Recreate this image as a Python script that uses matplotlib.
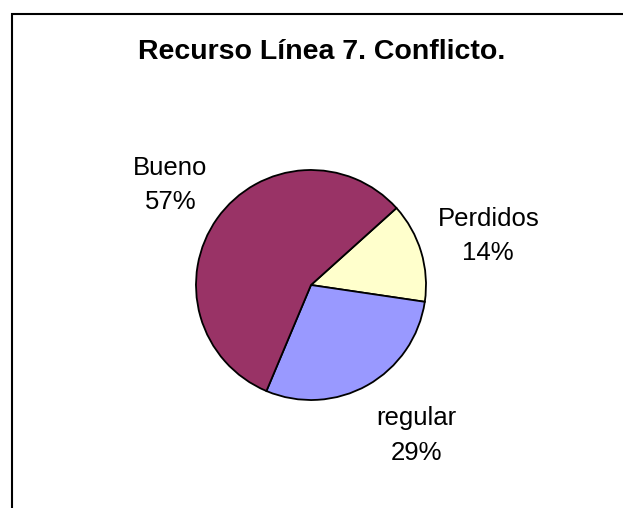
import numpy as np
import matplotlib
matplotlib.use("Agg")
import matplotlib.pyplot as plt
from matplotlib.patches import Rectangle

plt.rcParams['font.family'] = ['Liberation Sans', 'DejaVu Sans']

# slices in clockwise order starting from the upper right
categories = ['Perdidos', 'regular', 'Bueno']
percentages = [14, 29, 57]
colors = ['#FFFFCC', '#9999FF', '#993366']

# label placement: (angle in degrees, distance in pie radii)
label_spots = [(15.5, 1.60), (-54.9, 1.60), (144.6, 1.50)]

W, H, DPI = 623, 508, 100
fig = plt.figure(figsize=(W / DPI, H / DPI), dpi=DPI)
fig.patch.set_facecolor('white')

# chart area border (runs off the right and bottom edges)
left_px, top_px = 11.7, 14.2
fig.patches.append(Rectangle((left_px / W, -0.2), 1.5, 1.2 - top_px / H,
                             transform=fig.transFigure, fill=False,
                             edgecolor='black', linewidth=1.5))

fig.text(322 / W, 1 - 59 / H, 'Recurso Línea 7. Conflicto.',
         ha='center', va='baseline', fontsize=20.5, fontweight='bold')

# axes spanning the figure; 1 data unit = pie radius in pixels
radius_px = 115
cx, cy = 311, 285
ax = fig.add_axes([0, 0, 1, 1])
wedges, _ = ax.pie(percentages, colors=colors, startangle=42,
                   counterclock=False,
                   wedgeprops=dict(edgecolor='black', linewidth=1.3))
ax.set_xlim(-cx / radius_px, (W - cx) / radius_px)
ax.set_ylim(-(H - cy) / radius_px, cy / radius_px)
ax.axis('off')

for name, pct, (ang, dist) in zip(categories, percentages, label_spots):
    a = np.deg2rad(ang)
    ax.text(dist * np.cos(a), dist * np.sin(a), f'{name}\n{pct}%',
            ha='center', va='center', multialignment='center',
            fontsize=18.5, linespacing=1.55)

fig.savefig('out.png', dpi=DPI)
